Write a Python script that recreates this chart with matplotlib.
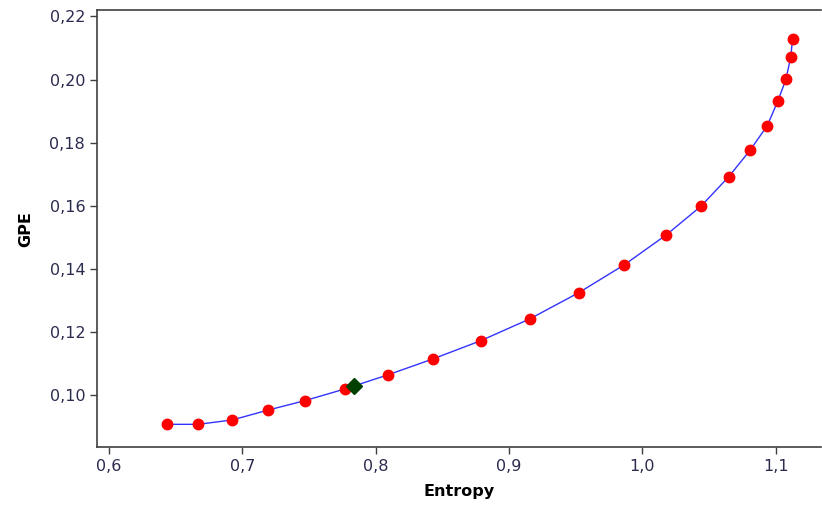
import matplotlib
matplotlib.use("Agg")
import matplotlib.pyplot as plt
from matplotlib.ticker import FuncFormatter

# data
entropy = [0.6432, 0.6669, 0.6926, 0.7191, 0.7468, 0.7768, 0.8092, 0.8427,
           0.8787, 0.9154, 0.9521, 0.9865, 1.0180, 1.0440, 1.0647, 1.0807,
           1.0936, 1.1016, 1.1076, 1.1111, 1.1126]
gpe = [0.0907, 0.0907, 0.0921, 0.0952, 0.0982, 0.1019, 0.1064, 0.1114,
       0.1172, 0.1241, 0.1324, 0.1413, 0.1508, 0.1599, 0.1692, 0.1776,
       0.1854, 0.1933, 0.2001, 0.2070, 0.2130]
opt_entropy = [0.7838]
opt_gpe = [0.1030]

x_ticks = [0.6, 0.7, 0.8, 0.9, 1.0, 1.1]
y_ticks = [0.10, 0.12, 0.14, 0.16, 0.18, 0.20, 0.22]

fig = plt.figure(figsize=(8.22, 5.08), dpi=100)
ax = fig.add_axes([0.118, 0.12, 0.881, 0.86])

ax.plot(entropy, gpe, color='#3333ff', lw=1, zorder=2)
ax.plot(entropy, gpe, 'o', color='red', ms=7.5, zorder=3)
ax.plot(opt_entropy, opt_gpe, 'D', color='#004000', ms=8, zorder=4)

ax.set_xlim(0.591, 1.134)
ax.set_ylim(0.0835, 0.222)
ax.set_xticks(x_ticks)
ax.set_yticks(y_ticks)
ax.xaxis.set_major_formatter(FuncFormatter(lambda v, p: f"{v:.1f}".replace('.', ',')))
ax.yaxis.set_major_formatter(FuncFormatter(lambda v, p: f"{v:.2f}".replace('.', ',')))

tick_col = '#2b2b4f'
ax.tick_params(axis='both', labelsize=11.5, labelcolor=tick_col, color='#404040',
               length=5, width=1)
for s in ax.spines.values():
    s.set_color('#404040')
    s.set_linewidth(1.2)
ax.spines['right'].set_visible(False)

ax.set_xlabel('Entropy', fontsize=11.5, fontweight='bold', labelpad=7)
ax.set_ylabel('GPE', fontsize=11.5, fontweight='bold', labelpad=12)

fig.savefig('out.png', dpi=100)
